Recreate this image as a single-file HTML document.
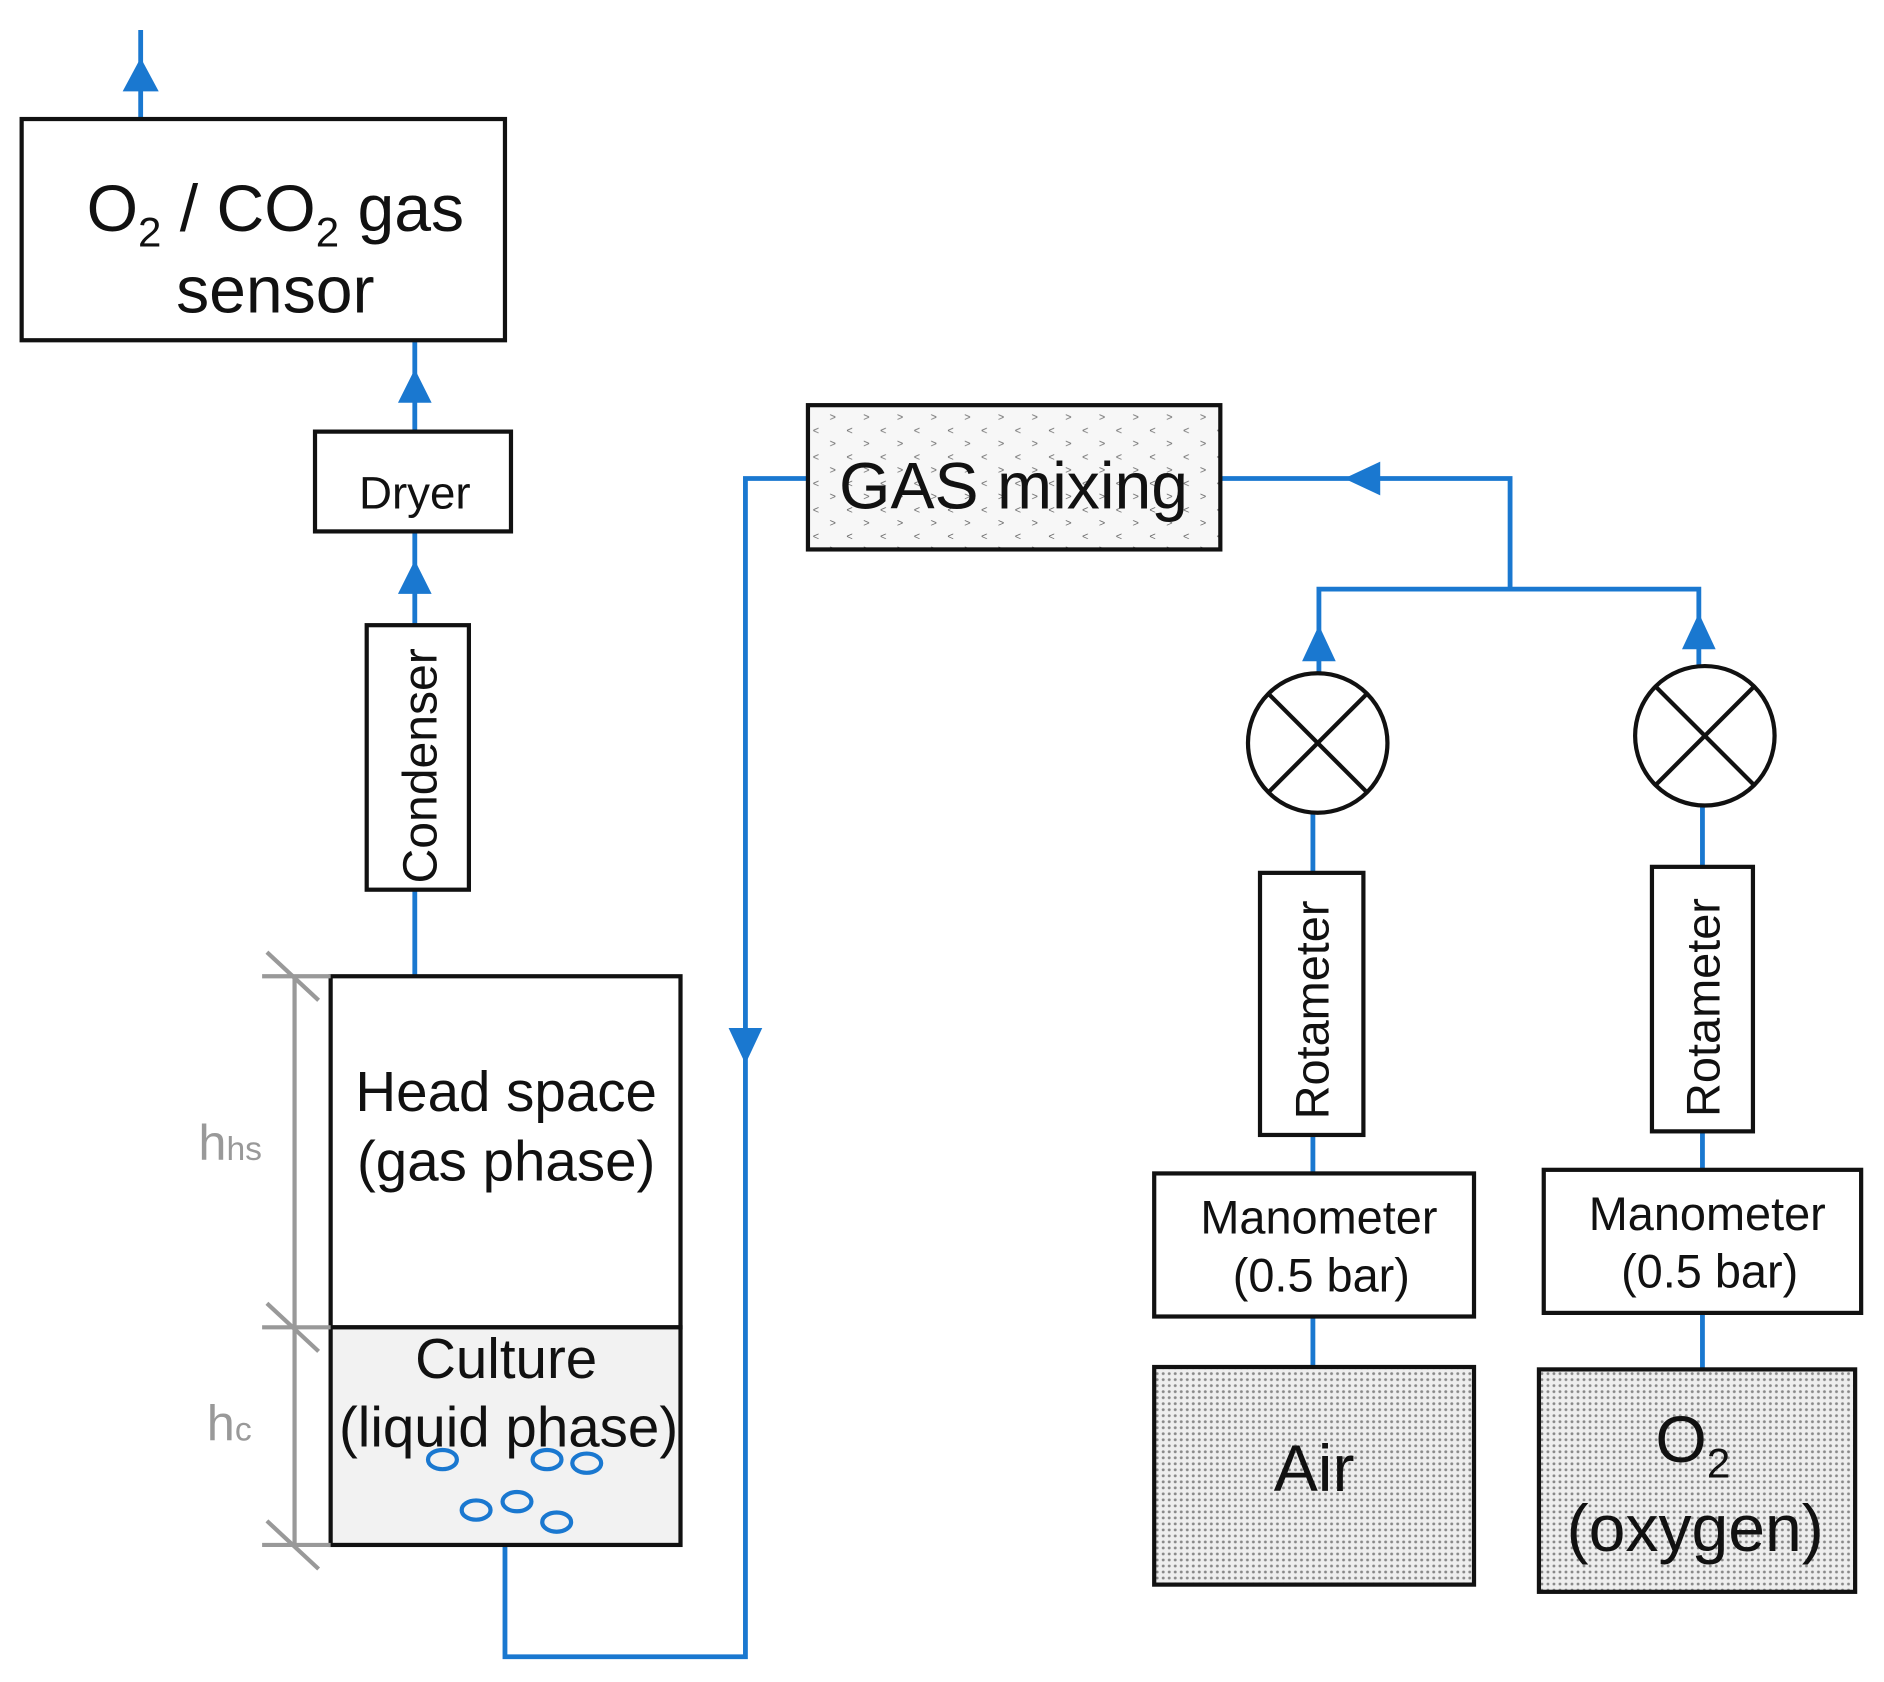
<!DOCTYPE html>
<html><head><meta charset="utf-8"><style>
html,body{margin:0;padding:0;background:#fff;}
svg{display:block;}
text{font-family:"Liberation Sans",Arial,sans-serif;fill:#111;}
</style></head><body>
<svg width="1884" height="1682" viewBox="0 0 1567 1399" xmlns="http://www.w3.org/2000/svg">
<defs>
<pattern id="dots" width="5" height="5" patternUnits="userSpaceOnUse">
<rect width="5" height="5" fill="#eeeeee"/><circle cx="2.5" cy="2.5" r="1.2" fill="#888"/></pattern>
<pattern id="chev" width="28" height="22" patternUnits="userSpaceOnUse">
<rect width="28" height="22" fill="#f7f7f7"/>
<text x="4" y="9" font-size="9" style="fill:#666">&lt;</text>
<text x="18" y="20" font-size="9" style="fill:#666">&gt;</text></pattern>
</defs>
<g stroke="#1a78d0" stroke-width="4" fill="none">
<line x1="117" y1="25" x2="117" y2="98"/>
<line x1="345" y1="283" x2="345" y2="360"/>
<line x1="345" y1="442" x2="345" y2="520"/>
<line x1="345" y1="740" x2="345" y2="812"/>
<polyline points="420,1285 420,1378 620,1378 620,398 672,398"/>
<polyline points="1015,398 1256,398 1256,490"/>
<polyline points="1097,560 1097,490 1413,490 1413,553"/>
<line x1="1092" y1="676" x2="1092" y2="726"/>
<line x1="1092" y1="944" x2="1092" y2="976"/>
<line x1="1092" y1="1095" x2="1092" y2="1137"/>
<line x1="1416" y1="670" x2="1416" y2="721"/>
<line x1="1416" y1="941" x2="1416" y2="973"/>
<line x1="1416" y1="1092" x2="1416" y2="1139"/>
</g>
<g fill="#1a78d0">
<polygon points="117,48 102,76 132,76"/>
<polygon points="345,307 331,335 359,335"/>
<polygon points="345,466 331,494 359,494"/>
<polygon points="620,885 606,855 634,855"/>
<polygon points="1118,398 1148,384 1148,412"/>
<polygon points="1097,520 1083,550 1111,550"/>
<polygon points="1413,510 1399,540 1427,540"/>
</g>
<g stroke="#111" stroke-width="3.5" fill="#fff">
<rect x="18" y="99" width="402" height="184"/>
<rect x="262" y="359" width="163" height="83"/>
<rect x="305" y="520" width="85" height="220"/>
<rect x="275" y="812" width="291" height="292"/>
<rect x="275" y="1104" width="291" height="181" fill="#f2f2f2"/>
<rect x="672" y="337" width="343" height="120" fill="url(#chev)"/>
<circle cx="1096" cy="618" r="58"/>
<circle cx="1418" cy="612" r="58"/>
<rect x="1048" y="726" width="86" height="218"/>
<rect x="1374" y="721" width="84" height="220"/>
<rect x="960" y="976" width="266" height="119"/>
<rect x="1284" y="973" width="264" height="119"/>
<rect x="960" y="1137" width="266" height="181" fill="url(#dots)"/>
<rect x="1280" y="1139" width="263" height="185" fill="url(#dots)"/>
</g>
<g stroke="#111" stroke-width="3.5">
<line x1="1055" y1="577" x2="1137" y2="659"/><line x1="1137" y1="577" x2="1055" y2="659"/>
<line x1="1377" y1="571" x2="1459" y2="653"/><line x1="1459" y1="571" x2="1377" y2="653"/>
</g>
<g stroke="#999" stroke-width="3.5">
<line x1="245" y1="812" x2="245" y2="1285"/>
<line x1="218" y1="812" x2="275" y2="812"/><line x1="218" y1="1104" x2="275" y2="1104"/><line x1="218" y1="1285" x2="275" y2="1285"/>
<line x1="222" y1="792" x2="265" y2="832"/><line x1="222" y1="1084" x2="265" y2="1124"/><line x1="222" y1="1265" x2="265" y2="1305"/>
</g>
<g stroke="#1a78d0" stroke-width="3.5" fill="none">
<ellipse cx="368" cy="1214" rx="12" ry="8"/><ellipse cx="455" cy="1214" rx="12" ry="8"/><ellipse cx="488" cy="1217" rx="12" ry="8"/>
<ellipse cx="396" cy="1256" rx="12" ry="8"/><ellipse cx="430" cy="1249" rx="12" ry="8"/><ellipse cx="463" cy="1266" rx="12" ry="8"/>
</g>
<text x="229" y="192" font-size="55" text-anchor="middle">O<tspan font-size="35" dy="13">2</tspan><tspan dy="-13"> / CO</tspan><tspan font-size="35" dy="13">2</tspan><tspan dy="-13"> gas</tspan></text>
<text x="229" y="260" font-size="55" text-anchor="middle">sensor</text>
<text x="345" y="423" font-size="38" text-anchor="middle">Dryer</text>
<text transform="translate(363,637) rotate(-90)" font-size="40" text-anchor="middle">Condenser</text>
<text x="421" y="924" font-size="47" text-anchor="middle">Head space</text>
<text x="421" y="982" font-size="47" text-anchor="middle">(gas phase)</text>
<text x="421" y="1146" font-size="47" text-anchor="middle">Culture</text>
<text x="423" y="1203" font-size="47" text-anchor="middle">(liquid phase)</text>
<text x="165" y="965" font-size="42" style="fill:#999">h<tspan font-size="28">hs</tspan></text>
<text x="172" y="1198" font-size="42" style="fill:#999">h<tspan font-size="28">c</tspan></text>
<text x="843" y="423" font-size="55" text-anchor="middle">GAS mixing</text>
<text transform="translate(1105,840) rotate(-90)" font-size="39" text-anchor="middle">Rotameter</text>
<text transform="translate(1430,838) rotate(-90)" font-size="39" text-anchor="middle">Rotameter</text>
<text x="1097" y="1026" font-size="39" text-anchor="middle">Manometer</text>
<text x="1099" y="1074" font-size="39" text-anchor="middle">(0.5 bar)</text>
<text x="1420" y="1023" font-size="39" text-anchor="middle">Manometer</text>
<text x="1422" y="1071" font-size="39" text-anchor="middle">(0.5 bar)</text>
<text x="1093" y="1240" font-size="55" text-anchor="middle">Air</text>
<text x="1408" y="1216" font-size="55" text-anchor="middle">O<tspan font-size="35" dy="13">2</tspan></text>
<text x="1410" y="1290" font-size="55" text-anchor="middle">(oxygen)</text>
</svg>
</body></html>
